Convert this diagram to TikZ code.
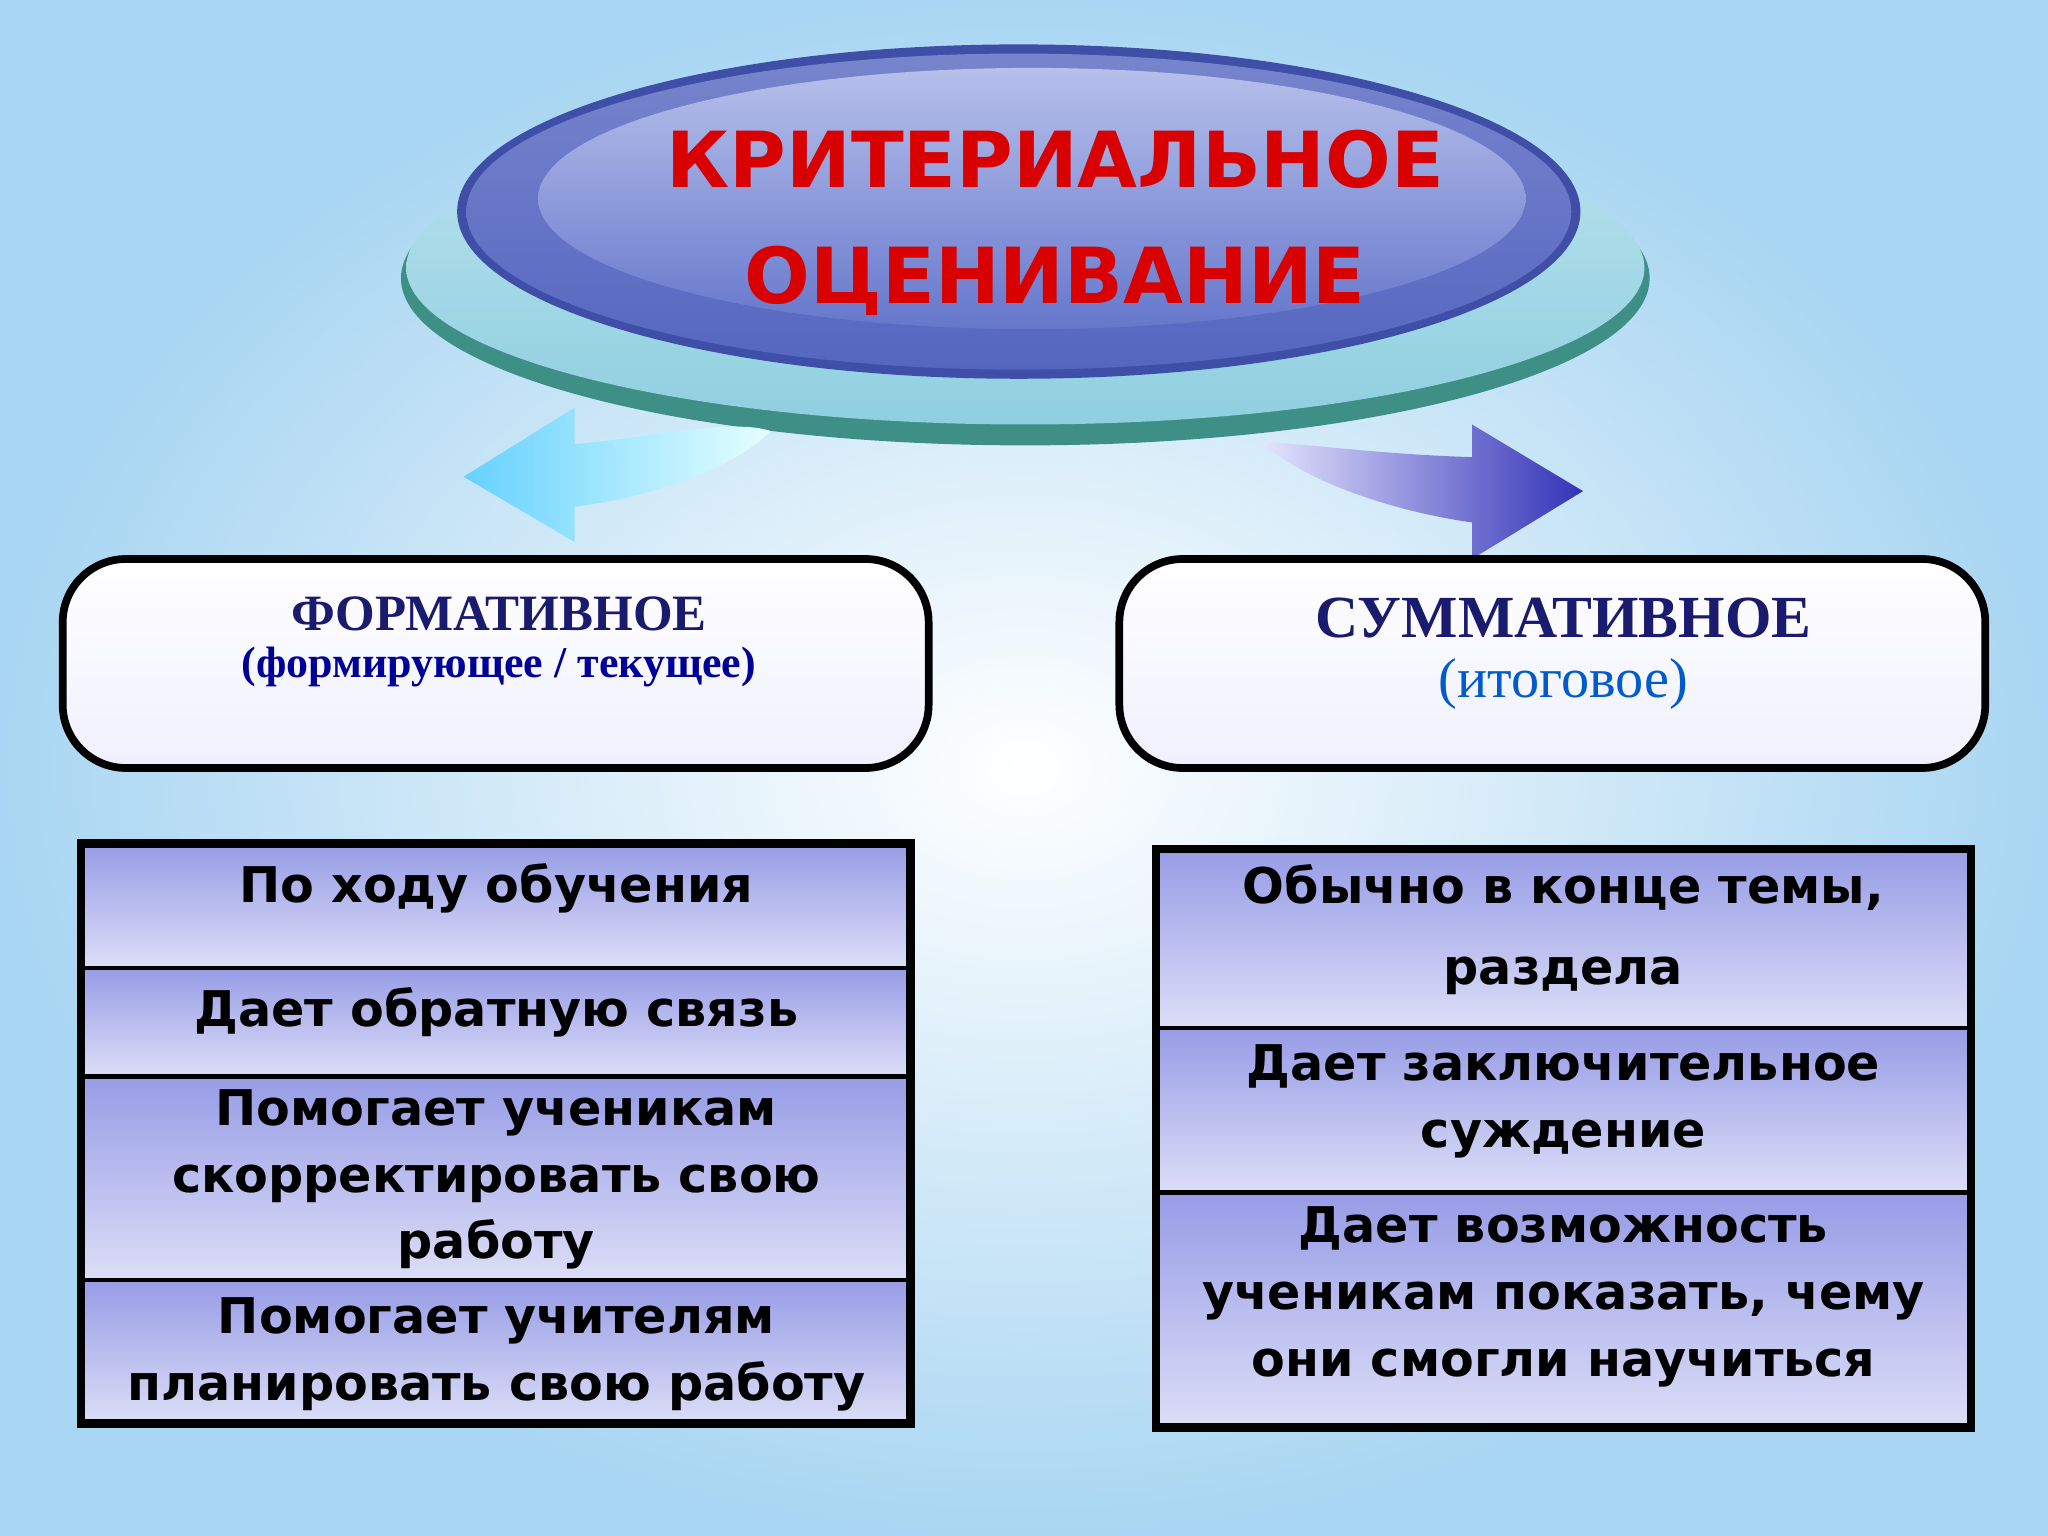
\documentclass[tikz,border=0pt]{standalone}
\usepackage{fontspec}
\setmainfont{Liberation Serif}
\newfontfamily\heavy{DejaVu Sans}
\usetikzlibrary{shapes.geometric,arrows.meta}
\definecolor{navy}{HTML}{1A1A6E}
\definecolor{cellA}{HTML}{979CE6}
\definecolor{cellB}{HTML}{DCDEF7}
\definecolor{bgout}{HTML}{A9D6F2}
\definecolor{teal1}{HTML}{3E8F86}
\definecolor{teal2}{HTML}{8FCFE0}
\definecolor{darkell}{HTML}{3F4FA8}
\definecolor{midell}{HTML}{5566C0}
\definecolor{inell1}{HTML}{B6C0EA}
\definecolor{inell2}{HTML}{6677CC}
\tikzset{
 cell/.style={draw=black,line width=1.3pt,top color=cellA,bottom color=cellB},
 celltext/.style={font=\heavy\bfseries\fontsize{14}{16}\selectfont,align=center,text=black},
 hbox/.style={draw=black,line width=2.2pt,rounded corners=18pt,top color=white,bottom color=blue!6},
}
\begin{document}
\begin{tikzpicture}[x=0.013061cm,y=-0.013061cm]
\useasboundingbox (0,0) rectangle (1568,1176);
\shade[inner color=white,outer color=bgout] (0,0) rectangle (1568,1176);
% ellipses
\fill[teal1] (785,213) ellipse [x radius=478,y radius=128];
\shade[top color=teal2!60!white,bottom color=teal2] (785,205) ellipse [x radius=474,y radius=120];
\fill[darkell] (780,162) ellipse [x radius=430,y radius=128];
\shade[top color=midell!80!white,bottom color=midell] (780,162) ellipse [x radius=423,y radius=121];
\shade[top color=inell1,bottom color=inell2] (790,152) ellipse [x radius=378,y radius=100];
\node[text=red!85!black,font=\heavy\bfseries\fontsize{22}{26}\selectfont] (t1) at (808,122) {КРИТЕРИАЛЬНОЕ};
\node[text=red!85!black,font=\heavy\bfseries\fontsize{22}{26}\selectfont] (t2) at (808,215) {ОЦЕНИВАНИЕ};
% arrows
\shade[left color=cyan!70!blue!60,right color=cyan!10]
 (355,365) -- (440,312) -- (440,340) .. controls (500,335) and (560,320) .. (590,330)
 .. controls (560,360) and (500,380) .. (440,388) -- (440,415) -- cycle;
\shade[left color=blue!10,right color=blue!65!black!80]
 (1212,376) -- (1127,325) -- (1127,350) .. controls (1060,348) and (1000,340) .. (965,338)
 .. controls (1000,370) and (1070,392) .. (1127,400) -- (1127,428) -- cycle;
% header boxes
\draw[hbox] (48,428) rectangle (711,588);
\draw[hbox] (857,428) rectangle (1520,588);
\node[text=navy,font=\bfseries\fontsize{14.5}{17}\selectfont] (lh) at (382,470) {ФОРМАТИВНОЕ};
\node[text=blue!60!black,font=\bfseries\fontsize{12.5}{15}\selectfont] (ls) at (382,511) {(формирующее / текущее)};
\node[text=navy,font=\bfseries\fontsize{17}{20}\selectfont] (rh) at (1197,473) {СУММАТИВНОЕ};
\node[text=blue!55!cyan!80!black,font=\fontsize{16}{19}\selectfont] (rs) at (1197,524) {(итоговое)};
% left table
\draw[cell] (62,646) rectangle (697,741);
\draw[cell] (62,741) rectangle (697,824);
\draw[cell] (62,824) rectangle (697,980);
\draw[cell] (62,980) rectangle (697,1090);
\draw[line width=2.5pt] (62,646) rectangle (697,1090);
\node[celltext] (a1) at (380,680) {По ходу обучения};
\node[celltext] (a2) at (380,775) {Дает обратную связь};
\node[celltext] (a3) at (380,903) {Помогает ученикам\\[3pt]скорректировать свою\\[3pt]работу};
\node[celltext] (a4) at (380,1037) {Помогает учителям\\[3pt]планировать свою работу};
% right table
\draw[cell] (885,650) rectangle (1509,787);
\draw[cell] (885,787) rectangle (1509,913);
\draw[cell] (885,913) rectangle (1509,1093);
\draw[line width=2.5pt] (885,650) rectangle (1509,1093);
\node[celltext] (b1) at (1197,712) {Обычно в конце темы,\\[7pt]раздела};
\node[celltext] (b2) at (1197,843) {Дает заключительное\\[3pt]суждение};
\node[celltext] (b3) at (1197,993) {Дает возможность\\[3pt]ученикам показать, чему\\[3pt]они смогли научиться};
\end{tikzpicture}
\end{document}
